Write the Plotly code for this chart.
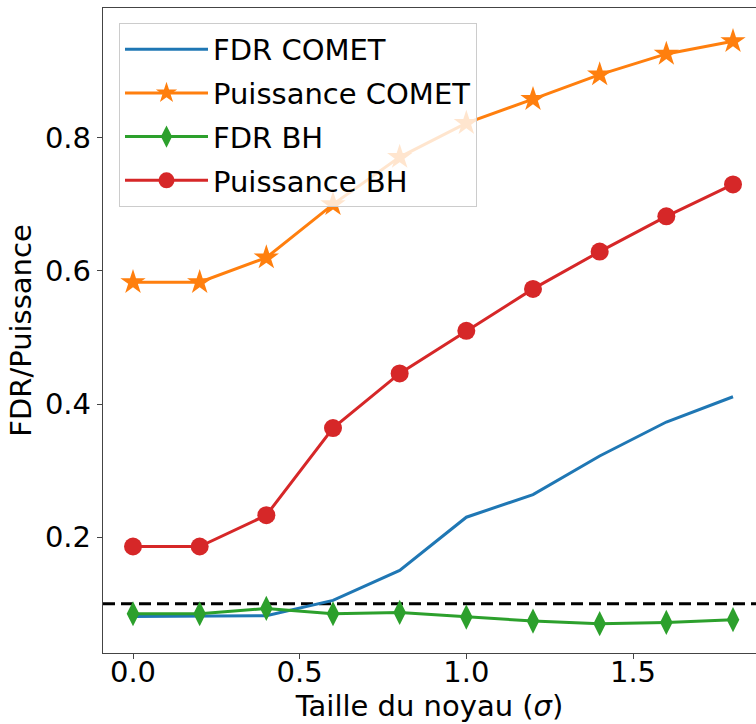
import plotly.graph_objects as go

sigma = [0.0, 0.2, 0.4, 0.6, 0.8, 1.0, 1.2, 1.4, 1.6, 1.8]
fdr_comet = [0.081, 0.081, 0.082, 0.105, 0.150, 0.230, 0.264, 0.322, 0.373, 0.411]
puissance_comet = [0.583, 0.583, 0.620, 0.700, 0.771, 0.822, 0.858, 0.895, 0.926, 0.945]
fdr_bh = [0.085, 0.085, 0.093, 0.085, 0.087, 0.080, 0.074, 0.070, 0.072, 0.076]
puissance_bh = [0.186, 0.186, 0.233, 0.364, 0.446, 0.510, 0.573, 0.629, 0.682, 0.730]
fdr_target = 0.1

x_ticks = [0.0, 0.5, 1.0, 1.5]
y_ticks = [0.2, 0.4, 0.6, 0.8]

FONT = "DejaVu Sans"
FS = 29

fig = go.Figure()
fig.add_trace(go.Scatter(x=sigma, y=fdr_comet, mode="lines", name="FDR COMET",
                         line=dict(color="#1f77b4", width=3), legendgroup="a"))
fig.add_trace(go.Scatter(x=sigma, y=puissance_comet, mode="lines+markers", name="Puissance COMET",
                         line=dict(color="#ff7f0e", width=3),
                         marker=dict(symbol="star", size=19, color="#ff7f0e"), legendgroup="b"))
fig.add_trace(go.Scatter(x=sigma, y=fdr_bh, mode="lines+markers", name="FDR BH",
                         line=dict(color="#2ca02c", width=3),
                         marker=dict(symbol="diamond-tall", size=18, color="#2ca02c"), legendgroup="c"))
fig.add_trace(go.Scatter(x=sigma, y=puissance_bh, mode="lines+markers", name="Puissance BH",
                         line=dict(color="#d62728", width=3),
                         marker=dict(symbol="circle", size=18, color="#d62728"), legendgroup="d"))

fig.add_hline(y=fdr_target, line=dict(color="black", width=3, dash="12px,6px"), layer="below")

fig.update_layout(
    width=756, height=724,
    margin=dict(l=103, r=0, t=8, b=71),
    paper_bgcolor="white", plot_bgcolor="white",
    font=dict(family=FONT, size=FS, color="black"),
    showlegend=True,
    legend=dict(x=0.0245, y=0.977, xanchor="left", yanchor="top",
                bgcolor="rgba(255,255,255,0.8)", bordercolor="#cccccc", borderwidth=1,
                font=dict(family=FONT, size=FS), tracegroupgap=3, itemwidth=83),
    xaxis=dict(range=[-0.09, 1.869], tickvals=x_ticks, ticktext=["0.0", "0.5", "1.0", "1.5"],
               showgrid=False, zeroline=False, showline=True, linecolor="#444", linewidth=1.3,
               mirror=True, ticks="outside", ticklen=5, tickcolor="#444",
               ticklabelstandoff=-12,
               title=dict(text="Taille du noyau (<i>σ</i>)", font=dict(family=FONT, size=FS), standoff=0),
               automargin=False),
    yaxis=dict(range=[0.026, 0.995], tickvals=y_ticks, ticktext=["0.2", "0.4", "0.6", "0.8"],
               showgrid=False, zeroline=False, showline=True, linecolor="#444", linewidth=1.3,
               ticks="outside", ticklen=5, tickcolor="#444",
               title=dict(text="FDR/Puissance", font=dict(family=FONT, size=FS), standoff=4),
               automargin=False),
)

fig.write_html("out.html", config={"displayModeBar": False},
               post_script="document.body.style.margin='0';document.body.style.overflow='hidden';")
